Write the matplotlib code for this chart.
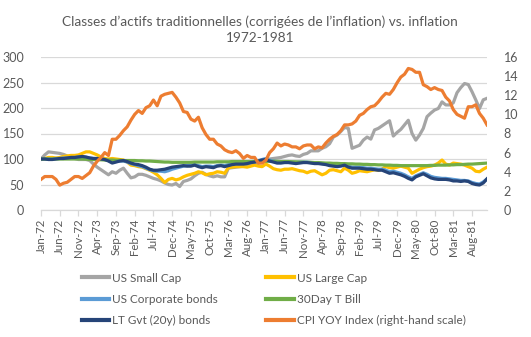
import matplotlib
matplotlib.use("Agg")
import matplotlib.pyplot as plt
import numpy as np
import pandas as pd

plt.rcParams['font.family'] = ['Lato', 'DejaVu Sans']

months = pd.date_range('1972-01-01', periods=120, freq='MS').strftime('%b-%y').tolist()

small_cap = [100, 108, 114, 113, 112, 111, 109, 106, 103, 101, 99, 99,
             99, 97, 90, 84, 79, 74, 69, 75, 72, 78, 82, 72,
             63, 65, 70, 70, 68, 65, 62, 60, 57, 53, 50, 49,
             52, 46, 56, 58, 61, 67, 72, 74, 70, 67, 65, 67,
             65, 65, 82, 83, 84, 85, 86, 87, 89, 90, 92, 96,
             99, 100, 101, 102, 103, 105, 107, 108, 106, 105, 109, 111,
             116, 116, 116, 121, 124, 130, 143, 147, 154, 162, 160, 121,
             124, 127, 137, 143, 139, 157, 160, 165, 170, 175, 145, 152,
             158, 167, 176, 150, 137, 147, 160, 183, 190, 196, 199, 212,
             206, 206, 210, 230, 240, 248, 246, 232, 216, 199, 216, 219]

large_cap = [100, 101, 103, 103, 102, 103, 105, 106, 107, 107, 108, 111,
             114, 114, 111, 108, 104, 101, 100, 101, 100, 99, 98, 94,
             88, 87, 85, 84, 81, 78, 74, 69, 62, 54, 60, 62,
             59, 61, 65, 68, 70, 72, 75, 73, 69, 71, 72, 75,
             74, 72, 83, 84, 85, 85, 85, 84, 86, 88, 86, 85,
             90, 86, 81, 79, 78, 80, 80, 81, 79, 77, 76, 73,
             76, 77, 73, 69, 72, 78, 79, 77, 75, 82, 78, 72,
             74, 77, 76, 75, 77, 79, 78, 80, 85, 83, 82, 84,
             86, 84, 82, 72, 76, 80, 83, 85, 86, 88, 92, 98,
             90, 88, 92, 91, 90, 88, 85, 82, 76, 75, 80, 84]

corp_bonds = [100, 100, 100, 100, 101, 101, 102, 102, 103, 103, 104, 104,
              103, 102, 101, 101, 100, 99, 97, 94, 95, 96, 96, 94,
              91, 89, 87, 85, 82, 79, 77, 76, 76, 75, 77, 80,
              82, 84, 86, 87, 88, 89, 87, 85, 86, 86, 85, 87,
              88, 87, 89, 90, 91, 91, 92, 92, 94, 95, 97, 99,
              101, 98, 96, 95, 95, 95, 95, 94, 93, 94, 94, 94,
              93, 92, 92, 91, 90, 89, 88, 87, 88, 89, 86, 84,
              84, 84, 83, 82, 82, 81, 80, 80, 78, 75, 76, 74,
              72, 69, 65, 62, 67, 70, 73, 70, 66, 64, 63, 62,
              62, 61, 60, 59, 58, 58, 57, 54, 52, 51, 55, 61]

t_bill = [100, 100, 100, 100, 100, 100, 100, 100, 100, 100, 100, 100,
          99.5, 99, 99, 98.5, 98.5, 98, 98, 98, 97.5, 97.5, 97, 97,
          97, 97, 96.5, 96.5, 96, 96, 95.5, 95, 94.5, 94, 94, 93.5,
          93.5, 93.5, 93.5, 93.5, 93.5, 94, 94, 94, 94, 94, 94, 94.5,
          94.5, 94.5, 94.5, 95, 95, 95, 95, 95, 95, 95.5, 95.5, 95.5,
          95.5, 95.5, 95.5, 95.5, 95, 95, 95, 94.5, 94.5, 94, 94, 93.5,
          93.5, 93, 93, 92.5, 92, 92, 91.5, 91.5, 91, 91, 90.5, 90.5,
          90, 90, 89.5, 89.5, 89, 89, 88.5, 88.5, 88, 88, 87.5, 87.5,
          87, 87, 87, 87, 87, 87, 87, 87, 87.5, 87.5, 88, 88,
          88, 88.5, 88.5, 89, 89, 89.5, 90, 90, 90.5, 91, 91.5, 92]

lt_gvt = [100, 100, 99, 99, 100, 101, 101, 102, 103, 103, 104, 105,
          104, 102, 101, 101, 100, 99, 96, 92, 94, 96, 97, 95,
          92, 90, 89, 87, 84, 80, 78, 78, 79, 80, 82, 84,
          85, 86, 87, 86, 86, 88, 85, 83, 85, 84, 83, 86,
          87, 85, 87, 89, 90, 90, 90, 91, 93, 94, 96, 98,
          99, 96, 94, 92, 92, 93, 93, 92, 91, 92, 93, 93,
          92, 91, 91, 90, 89, 87, 86, 85, 86, 88, 84, 82,
          82, 82, 81, 80, 80, 79, 78, 78, 75, 72, 73, 71,
          69, 66, 62, 59, 65, 68, 71, 67, 63, 61, 60, 60,
          60, 59, 57, 57, 56, 57, 56, 52, 50, 49, 53, 61]

cpi_yoy = [3.2, 3.5, 3.5, 3.5, 3.2, 2.6, 2.8, 2.9, 3.2, 3.5, 3.5, 3.3,
           3.6, 3.9, 4.6, 5.1, 5.5, 6.0, 5.7, 7.4, 7.4, 7.8, 8.3, 8.7,
           9.4, 10.0, 10.4, 10.1, 10.7, 10.9, 11.5, 10.9, 11.9, 12.1, 12.2, 12.3,
           11.8, 11.2, 10.3, 10.2, 9.5, 9.3, 9.7, 8.6, 7.9, 7.4, 7.4, 6.9,
           6.7, 6.3, 6.1, 6.0, 6.2, 5.9, 5.4, 5.7, 5.5, 5.5, 4.9, 4.9,
           5.2, 6.0, 6.4, 7.0, 6.7, 6.9, 6.8, 6.6, 6.6, 6.4, 6.7, 6.8,
           6.8, 6.4, 6.6, 6.5, 7.0, 7.4, 7.7, 7.9, 8.3, 8.9, 8.9, 9.0,
           9.3, 9.9, 10.1, 10.5, 10.8, 10.9, 11.3, 11.8, 12.2, 12.1, 12.6, 13.3,
           13.9, 14.2, 14.8, 14.7, 14.4, 14.4, 13.1, 12.9, 12.6, 12.8, 12.6, 12.5,
           11.8, 11.4, 10.5, 10.0, 9.8, 9.6, 10.8, 10.8, 11.0, 10.1, 9.6, 8.9]

labels = ["US Small Cap", "US Large Cap", "US Corporate bonds", "30Day T Bill",
          "LT Gvt (20y) bonds", "CPI YOY Index (right-hand scale)"]
colors = ["#A5A5A5", "#FFC000", "#5B9BD5", "#70AD47", "#264478", "#ED7D31"]

txt = "#595959"
grid = "#D9D9D9"
lw = 2.3

fig = plt.figure(figsize=(5.31, 3.37), dpi=100)
ax = fig.add_axes([41/531, 1-210/337, (487-41)/531, (210-57)/337])
ax2 = ax.twinx()

x = np.arange(len(months))
left_series = [small_cap, large_cap, corp_bonds, t_bill, lt_gvt]
handles = []
for s, lab, c in zip(left_series, labels[:5], colors[:5]):
    h, = ax.plot(x, s, color=c, lw=lw, label=lab, solid_joinstyle='round')
    handles.append(h)
h, = ax2.plot(x, cpi_yoy, color=colors[5], lw=lw, label=labels[5], solid_joinstyle='round')
handles.append(h)

ax.set_ylim(0, 300)
ax.set_yticks(np.arange(0, 301, 50))
ax2.set_ylim(0, 16)
ax2.set_yticks(np.arange(0, 17, 2))
ax.set_xlim(0, len(months) - 1)

ax.set_xticks(x[::5])
ax.set_xticklabels(months[::5], rotation=90)
ax.grid(axis='y', color=grid, lw=0.9)
ax.set_axisbelow(True)

for a in (ax, ax2):
    for sp in a.spines.values():
        sp.set_visible(False)
ax.spines['bottom'].set_visible(True)
ax.spines['bottom'].set_color(grid)
ax.spines['bottom'].set_linewidth(0.9)

ax.tick_params(axis='x', colors=grid, length=4, width=0.9, labelcolor=txt, labelsize=8.3, pad=2)
ax.tick_params(axis='y', length=0, labelcolor=txt, labelsize=9, pad=12)
ax2.tick_params(axis='y', length=0, labelcolor=txt, labelsize=9, pad=12)

fig.text(0.49, 0.955, "Classes d\u2019actifs traditionnelles (corrig\u00e9es de l\u2019inflation) vs. inflation\n1972-1981",
         ha='center', va='top', fontsize=9.8, color=txt, linespacing=1.4)

order = [0, 2, 4, 1, 3, 5]
leg = fig.legend([handles[i] for i in order], [labels[i] for i in order],
                 ncol=2, loc='upper left', bbox_to_anchor=(71/531, 1-262/337),
                 frameon=False, fontsize=8.5, labelcolor=txt, handlelength=2.3,
                 handletextpad=0.3, labelspacing=0.85, columnspacing=4.1)
for lh in leg.get_lines():
    lh.set_linewidth(3)

fig.savefig("out.png", dpi=100)
